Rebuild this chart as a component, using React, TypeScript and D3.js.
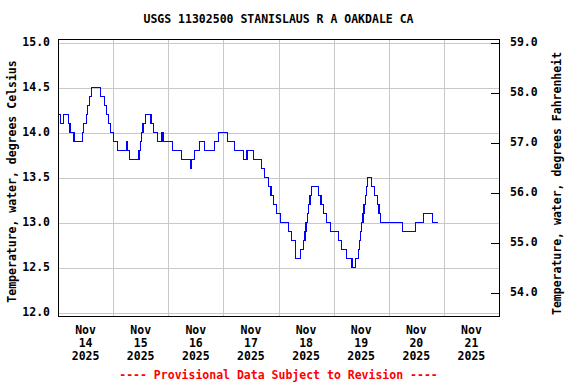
import * as d3 from "d3";

// hours since Nov 14 2025 00:00 where the reading changes, and the reading (deg C) from then on
const hours = [
  0, 1.25, 2.25, 4.5, 5.25, 7, 10.5, 11.25, 12.25, 13, 13.75, 14.75, 18.5, 20.25, 21, 22, 22.75,
  24, 26, 29.75, 30, 31, 35.25, 36, 36.5, 37, 38.25, 40.5, 41.5, 43.25, 45.25, 46, 49.75, 53.75,
  57.75, 58.25, 59.5, 61.5, 63.75, 68, 69.75, 73.75, 76.75, 80.75, 82.25, 85, 88.75, 89.75, 91.5,
  92.75, 93.75, 95, 96.75, 100.25, 101.75, 103.25, 103.5, 105.5, 106.75, 107.5, 108, 108.5, 109,
  109.75, 110.25, 113.25, 114.5, 115.75, 116.75, 118.5, 122, 123.5, 125.5, 128, 129.5, 130.75,
  131.25, 131.75, 132.25, 132.75, 133.25, 133.75, 134.25, 134.75, 136.5, 137.75, 139, 139.75,
  140.5, 150, 155.75, 159, 163, 165.25,
];
const tempC = [
  14.2, 14.1, 14.2, 14.1, 14.0, 13.9, 14.0, 14.1, 14.2, 14.3, 14.4, 14.5, 14.4, 14.3, 14.2, 14.1, 14.0,
  13.9, 13.8, 13.9, 13.8, 13.7, 13.8, 13.9, 14.0, 14.1, 14.2, 14.1, 14.0, 13.9, 14.0, 13.9, 13.8, 13.7,
  13.6, 13.7, 13.8, 13.9, 13.8, 13.9, 14.0, 13.9, 13.8, 13.7, 13.8, 13.7, 13.6, 13.5, 13.4,
  13.3, 13.2, 13.1, 13.0, 12.9, 12.8, 12.7, 12.6, 12.7, 12.8, 12.9, 13.0, 13.1, 13.2,
  13.3, 13.4, 13.3, 13.2, 13.1, 13.0, 12.9, 12.8, 12.7, 12.6, 12.5, 12.6, 12.7,
  12.8, 12.9, 13.0, 13.1, 13.2, 13.3, 13.4, 13.5, 13.4, 13.3, 13.2, 13.1,
  13.0, 12.9, 13.0, 13.1, 13.0, 13.0,
];
const celsiusTicks = [12.0, 12.5, 13.0, 13.5, 14.0, 14.5, 15.0];
const fahrenheitTicks = [54, 55, 56, 57, 58, 59];
const dayLabels = ["14", "15", "16", "17", "18", "19", "20", "21"];

const FONT = "'DejaVu Sans Mono', monospace";

export default function App() {
  const width = 576;
  const height = 384;
  const left = 58, right = 499, top = 39, bottom = 316;

  const start = new Date(2025, 10, 14);
  const end = new Date(2025, 10, 22);
  const x = d3.scaleTime().domain([start, end]).range([left, right]);
  const y = d3.scaleLinear().domain([11.965, 15.04]).range([bottom, top]);
  const yF = d3.scaleLinear()
    .domain(y.domain().map((c) => c * 1.8 + 32))
    .range([bottom, top]);

  const points = hours.map((h, i) => ({ t: new Date(start.getTime() + h * 3600e3), v: tempC[i] }));
  const line = d3.line<{ t: Date; v: number }>()
    .x((d) => x(d.t))
    .y((d) => y(d.v))
    .curve(d3.curveStepAfter);

  const days = d3.timeDay.range(start, end);

  return (
    <svg width={width} height={height} style={{ position: "absolute", left: 0, top: 0 }}
      fontFamily={FONT} fontWeight="bold" fontSize="11.5px">
      <rect width={width} height={height} fill="#fff" />
      <text x={(left + right) / 2} y={19} textAnchor="middle" dominantBaseline="middle">
        USGS 11302500 STANISLAUS R A OAKDALE CA
      </text>

      <g shapeRendering="crispEdges" stroke="#c8c8c8" strokeWidth={1}>
        {celsiusTicks.map((c) => (
          <line key={c} x1={left} x2={right} y1={Math.round(y(c)) + 0.5} y2={Math.round(y(c)) + 0.5} />
        ))}
        {days.slice(1).map((d) => (
          <line key={+d} x1={Math.round(x(d)) + 0.5} x2={Math.round(x(d)) + 0.5} y1={top} y2={bottom} />
        ))}
      </g>

      <path d={line(points) ?? ""} fill="none" stroke="#0000ff" strokeWidth={1.2} shapeRendering="crispEdges" />

      <rect x={left + 0.5} y={top + 0.5} width={right - left} height={bottom - top}
        fill="none" stroke="#000" strokeWidth={1} shapeRendering="crispEdges" />

      {fahrenheitTicks.map((f) => (
        <g key={f}>
          <line x1={right - 8} x2={right} y1={Math.round(yF(f)) + 0.5} y2={Math.round(yF(f)) + 0.5}
            stroke="#000" shapeRendering="crispEdges" />
          <text x={right + 11} y={yF(f)} dominantBaseline="middle">{f.toFixed(1)}</text>
        </g>
      ))}

      {celsiusTicks.map((c) => (
        <text key={c} x={left - 8} y={y(c)} textAnchor="end" dominantBaseline="middle">{c.toFixed(1)}</text>
      ))}

      {days.map((d, i) => {
        const cx = x(d3.timeHour.offset(d, 12));
        return (
          <text key={+d} x={cx} textAnchor="middle">
            <tspan x={cx} y={334}>Nov</tspan>
            <tspan x={cx} y={347}>{dayLabels[i]}</tspan>
            <tspan x={cx} y={360}>2025</tspan>
          </text>
        );
      })}

      <text transform={`translate(16,${(top + bottom) / 2 + 4}) rotate(-90)`} textAnchor="middle">
        Temperature, water, degrees Celsius
      </text>
      <text transform={`translate(561,${(top + bottom) / 2 + 6}) rotate(-90)`} textAnchor="middle">
        Temperature, water, degrees Fahrenheit
      </text>

      <text x={(left + right) / 2} y={379} textAnchor="middle" fill="#ff0000">
        ---- Provisional Data Subject to Revision ----
      </text>
    </svg>
  );
}
